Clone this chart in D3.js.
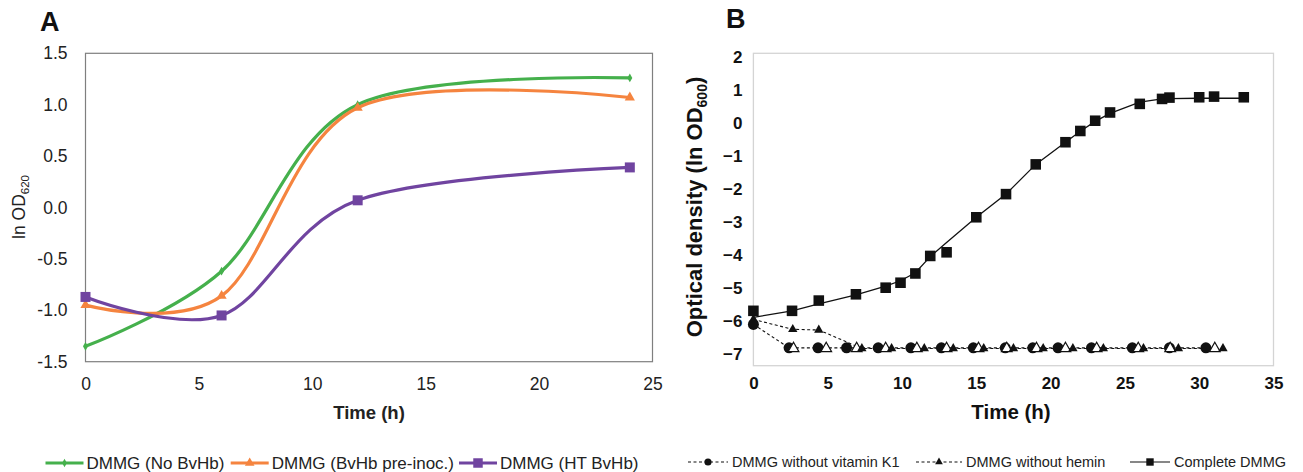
<!DOCTYPE html>
<html>
<head>
<meta charset="utf-8">
<script src="https://cdn.jsdelivr.net/npm/d3@7"></script>
<style>
  body { margin: 0; background: #fff; }
  svg { display: block; font-family: "Liberation Sans", Arial, sans-serif; }
</style>
</head>
<body>
<div id="chart"></div>
<script>
// ---- panel A data (ln OD620 vs time) ----
var timeA = [0, 6, 12, 24];
var noBvHb = [-1.35, -0.62, 1.0, 1.26];
var bvHbPreInoc = [-0.95, -0.86, 0.97, 1.07];
var htBvHb = [-0.87, -1.05, 0.07, 0.39];
var namesA = ["DMMG (No BvHb)", "DMMG (BvHb pre-inoc.)", "DMMG (HT BvHb)"];
var ticksAx = [0, 5, 10, 15, 20, 25];
var ticksAy = [-1.5, -1.0, -0.5, 0.0, 0.5, 1.0, 1.5];

// ---- panel B data (ln OD600 vs time) ----
var timeComplete = [0, 2.6, 4.4, 6.9, 8.9, 9.9, 10.9, 11.9, 13.0, 15.0, 17.0, 19.0, 21.0, 22.0, 23.0, 24.0, 26.0, 27.5, 28.0, 30.0, 31.0, 33.0];
var odComplete = [-5.69, -5.69, -5.38, -5.19, -4.99, -4.84, -4.56, -4.03, -3.92, -2.86, -2.16, -1.26, -0.59, -0.25, 0.06, 0.31, 0.57, 0.72, 0.76, 0.77, 0.79, 0.77];
var odCompleteFit = [-5.89, -5.69, -5.48, -5.21, -4.94, -4.78, -4.54, -4.05, -3.62, -2.86, -2.16, -1.26, -0.59, -0.26, 0.04, 0.28, 0.62, 0.72, 0.73, 0.74, 0.74, 0.74];
var timeNoVitK = [0, 2.4, 4.35, 6.27, 8.4, 10.6, 12.65, 14.8, 16.95, 18.8, 20.5, 22.75, 25.5, 28.0, 30.45];
var odNoVitK = [-6.1, -6.81, -6.81, -6.81, -6.81, -6.81, -6.81, -6.81, -6.81, -6.81, -6.81, -6.81, -6.81, -6.81, -6.81];
var timeNoHemin = [0, 2.65, 4.4, 7.3, 9.3, 11.5, 13.45, 15.5, 17.5, 19.5, 21.5, 23.55, 26.25, 28.6, 31.6];
var odNoHemin = [-5.95, -6.25, -6.27, -6.83, -6.83, -6.83, -6.83, -6.83, -6.83, -6.83, -6.83, -6.83, -6.83, -6.83, -6.83];
var timeOpenTri = [2.7, 4.9, 6.95, 8.9, 11.0, 13.0, 15.15, 17.05, 19.05, 21.0, 23.1, 25.9, 28.05, 31.05];
var odOpenTri = [-6.83, -6.83, -6.83, -6.83, -6.83, -6.83, -6.83, -6.83, -6.83, -6.83, -6.83, -6.83, -6.83, -6.83];
var namesB = ["DMMG without vitamin K1", "DMMG without hemin", "Complete DMMG"];
var ticksBx = [0, 5, 10, 15, 20, 25, 30, 35];
var ticksBy = [-7, -6, -5, -4, -3, -2, -1, 0, 1, 2];

var svg = d3.select("#chart").append("svg")
    .attr("width", 1303)
    .attr("height", 472);

function zip(xs, ys) { return xs.map(function(x, i) { return [x, ys[i]]; }); }

// ================= panel A =================
var xA = d3.scaleLinear().domain([0, 25]).range([85.5, 652.5]);
var yA = d3.scaleLinear().domain([-1.5, 1.5]).range([361.7, 53.3]);
var gA = svg.append("g");

gA.append("rect")
    .attr("x", xA(0)).attr("y", yA(1.5))
    .attr("width", xA(25) - xA(0)).attr("height", yA(-1.5) - yA(1.5))
    .attr("fill", "none").attr("stroke", "#7f7f7f").attr("stroke-width", 1.2);

var axAy = gA.append("g")
    .attr("transform", "translate(" + xA(0) + ",0)")
    .call(d3.axisLeft(yA).tickValues(ticksAy).tickSize(0).tickPadding(18)
        .tickFormat(function(d) { return d3.format(".1f")(d).replace("−", "-"); }));
axAy.select(".domain").remove();
axAy.selectAll("text").attr("font-size", 17.5).attr("fill", "#222")
    .attr("font-family", "Liberation Sans, Arial, sans-serif");

var axAx = gA.append("g")
    .attr("transform", "translate(0," + yA(-1.5) + ")")
    .call(d3.axisBottom(xA).tickValues(ticksAx).tickSize(0).tickPadding(16));
axAx.select(".domain").remove();
axAx.selectAll("text").attr("font-size", 17.5).attr("fill", "#222")
    .attr("font-family", "Liberation Sans, Arial, sans-serif");

gA.append("text")
    .attr("x", 369).attr("y", 419)
    .attr("text-anchor", "middle")
    .attr("font-weight", "bold").attr("font-size", 18.5).attr("fill", "#222")
    .text("Time (h)");

var yTitleA = gA.append("text")
    .attr("transform", "translate(25,207) rotate(-90)")
    .attr("text-anchor", "middle")
    .attr("font-size", 17.5).attr("fill", "#222");
yTitleA.append("tspan").text("ln OD");
yTitleA.append("tspan").attr("font-size", 11.5).attr("dy", 4).text("620");

gA.append("text")
    .attr("x", 40).attr("y", 31)
    .attr("font-weight", "bold").attr("font-size", 27).attr("fill", "#111")
    .text("A");

var seriesA = [
  { name: namesA[0], values: noBvHb, color: "#45b04c", symbol: d3.symbolDiamond, size: 22 },
  { name: namesA[1], values: bvHbPreInoc, color: "#f5843f", symbol: d3.symbolTriangle, size: 45 },
  { name: namesA[2], values: htBvHb, color: "#7044a0", symbol: d3.symbolSquare, size: 100 }
];

var lineA = d3.line()
    .x(function(d) { return xA(d[0]); })
    .y(function(d) { return yA(d[1]); })
    .curve(d3.curveCardinal.tension(0));

seriesA.forEach(function(s) {
  var pts = zip(timeA, s.values);
  gA.append("path")
      .attr("d", lineA(pts))
      .attr("fill", "none").attr("stroke", s.color).attr("stroke-width", 3.2);
  gA.selectAll(null).data(pts).enter().append("path")
      .attr("transform", function(d) { return "translate(" + xA(d[0]) + "," + yA(d[1]) + ")"; })
      .attr("d", d3.symbol().type(s.symbol).size(s.size))
      .attr("fill", s.color);
});

// legend A
var legAx = [45.5, 230.7, 459];
seriesA.forEach(function(s, i) {
  var lg = gA.append("g").attr("transform", "translate(" + legAx[i] + ",463)");
  lg.append("line").attr("x1", 0).attr("x2", 38).attr("y1", 0).attr("y2", 0)
      .attr("stroke", s.color).attr("stroke-width", 3.2);
  lg.append("path").attr("transform", "translate(19,0)")
      .attr("d", d3.symbol().type(s.symbol).size(s.size * 0.9))
      .attr("fill", s.color);
  lg.append("text").attr("x", 41).attr("y", 0).attr("dy", "0.35em")
      .attr("font-size", 17).attr("fill", "#222").text(s.name);
});

// ================= panel B =================
var xB = d3.scaleLinear().domain([0, 35]).range([753.4, 1273.5]);
var yB = d3.scaleLinear().domain([-7.35, 2.1]).range([365.7, 53.3]);
var gB = svg.append("g");

gB.append("rect")
    .attr("x", xB(0)).attr("y", yB(2.1))
    .attr("width", xB(35) - xB(0)).attr("height", yB(-7.35) - yB(2.1))
    .attr("fill", "none").attr("stroke", "#d4d4d4").attr("stroke-width", 1.3);

var axBy = gB.append("g")
    .attr("transform", "translate(" + xB(0) + ",0)")
    .call(d3.axisLeft(yB).tickValues(ticksBy).tickSize(0).tickPadding(11));
axBy.select(".domain").remove();
axBy.selectAll("text").attr("font-size", 17).attr("font-weight", "bold").attr("fill", "#111")
    .attr("font-family", "Liberation Sans, Arial, sans-serif");

var axBx = gB.append("g")
    .attr("transform", "translate(0," + yB(-7.35) + ")")
    .call(d3.axisBottom(xB).tickValues(ticksBx).tickSize(0).tickPadding(11));
axBx.select(".domain").remove();
axBx.selectAll("text").attr("font-size", 17).attr("font-weight", "bold").attr("fill", "#111")
    .attr("font-family", "Liberation Sans, Arial, sans-serif");

gB.append("text")
    .attr("x", 1011).attr("y", 419)
    .attr("text-anchor", "middle")
    .attr("font-weight", "bold").attr("font-size", 20.5).attr("fill", "#111")
    .text("Time (h)");

var yTitleB = gB.append("text")
    .attr("transform", "translate(702,207) rotate(-90)")
    .attr("text-anchor", "middle")
    .attr("font-weight", "bold").attr("font-size", 22).attr("fill", "#111");
yTitleB.append("tspan").text("Optical density (ln OD");
yTitleB.append("tspan").attr("font-size", 14).attr("dy", 5).text("600");
yTitleB.append("tspan").attr("dy", -5).text(")");

gB.append("text")
    .attr("x", 726).attr("y", 28)
    .attr("font-weight", "bold").attr("font-size", 27).attr("fill", "#111")
    .text("B");

var lineB = d3.line()
    .x(function(d) { return xB(d[0]); })
    .y(function(d) { return yB(d[1]); });

var vitKPts = zip(timeNoVitK, odNoVitK);
var heminPts = zip(timeNoHemin, odNoHemin);
var openPts = zip(timeOpenTri, odOpenTri);
var completePts = zip(timeComplete, odComplete);
var fitPts = zip(timeComplete, odCompleteFit);

gB.append("path").attr("d", lineB(vitKPts))
    .attr("fill", "none").attr("stroke", "#111").attr("stroke-width", 1.1)
    .attr("stroke-dasharray", "3,2.5");
gB.append("path").attr("d", lineB(heminPts))
    .attr("fill", "none").attr("stroke", "#111").attr("stroke-width", 1.1)
    .attr("stroke-dasharray", "3,2.5");
gB.append("path").attr("d", lineB(fitPts))
    .attr("fill", "none").attr("stroke", "#111").attr("stroke-width", 1.3);

function drawMarks(pts, type, size, fill, stroke) {
  gB.selectAll(null).data(pts).enter().append("path")
      .attr("transform", function(d) { return "translate(" + xB(d[0]) + "," + yB(d[1]) + ")"; })
      .attr("d", d3.symbol().type(type).size(size))
      .attr("fill", fill)
      .attr("stroke", stroke || "none")
      .attr("stroke-width", 1.2);
}
drawMarks(completePts, d3.symbolSquare, 112, "#111");
drawMarks(vitKPts, d3.symbolCircle, 95, "#111");
drawMarks(openPts, d3.symbolTriangle, 50, "#fff", "#111");
drawMarks(heminPts, d3.symbolTriangle, 38, "#111");

// legend B
var legB = [
  { x: 688, w: 40, dash: "3,2.5", symbol: d3.symbolCircle, size: 40 },
  { x: 916, w: 46, dash: "3,2.5", symbol: d3.symbolTriangle, size: 26 },
  { x: 1130, w: 40, dash: null, symbol: d3.symbolSquare, size: 55 }
];
legB.forEach(function(l, i) {
  var lg = gB.append("g").attr("transform", "translate(" + l.x + ",462)");
  lg.append("line").attr("x1", 0).attr("x2", l.w).attr("y1", 0).attr("y2", 0)
      .attr("stroke", "#111").attr("stroke-width", 1.1)
      .attr("stroke-dasharray", l.dash);
  lg.append("path").attr("transform", "translate(" + (l.w / 2) + ",0)")
      .attr("d", d3.symbol().type(l.symbol).size(l.size))
      .attr("fill", "#111");
  lg.append("text").attr("x", l.w + 4).attr("y", 0).attr("dy", "0.35em")
      .attr("font-size", 14.5).attr("fill", "#222").text(namesB[i]);
});
</script>
</body>
</html>
